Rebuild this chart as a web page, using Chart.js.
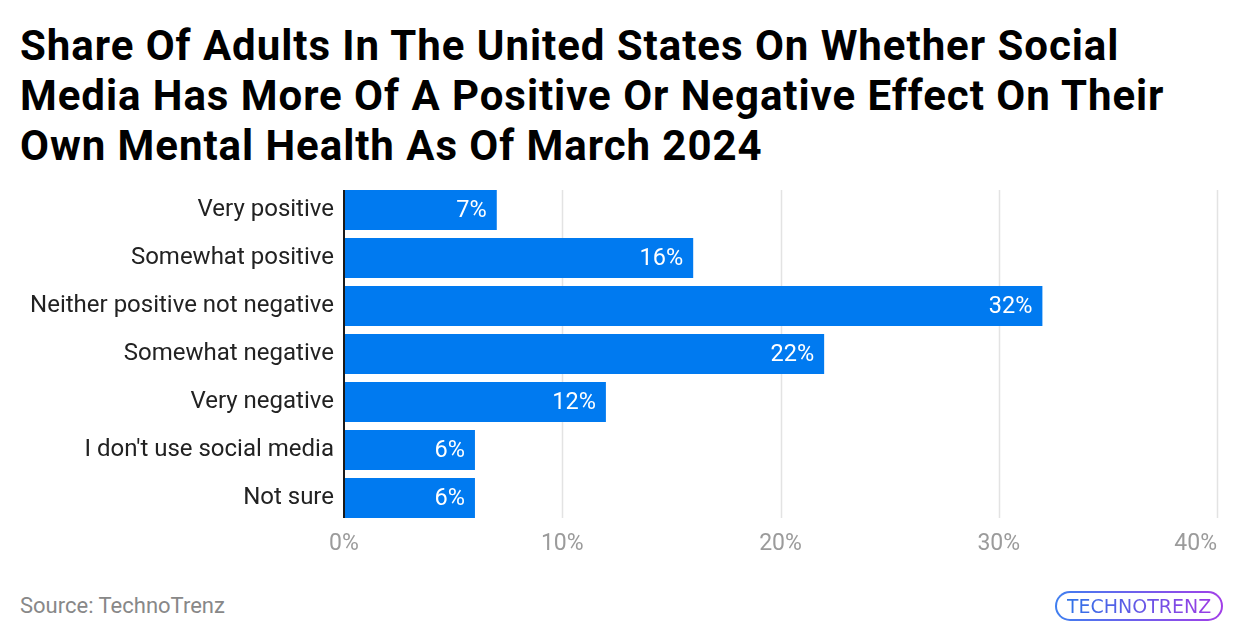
<!DOCTYPE html>
<html>
<head>
<meta charset="utf-8">
<script src="https://cdn.jsdelivr.net/npm/chart.js@4"></script>
<style>
  html, body { margin: 0; padding: 0; background: #fff; }
  body { width: 1240px; height: 640px; position: relative; overflow: hidden; font-family: Roboto, sans-serif; }
  #title {
    position: absolute; left: 20px; top: 21px; width: 1220px; white-space: nowrap;
    font-size: 42px; font-weight: 700; line-height: 50px; color: #000;
    margin: 0; letter-spacing: 0.95px;
  }
  #chart-box { position: absolute; left: 0; top: 180px; width: 1240px; height: 400px; }
  #source { position: absolute; left: 20px; top: 593px; font-size: 22px; color: #888; }
  #logo {
    position: absolute; left: 1055px; top: 591px; width: 168px; height: 30px;
    border: 2px solid transparent; border-radius: 16px; box-sizing: border-box;
    background: linear-gradient(#fff, #fff) padding-box, linear-gradient(90deg, #3f7ff0, #a23ee8) border-box;
    display: flex; align-items: center; justify-content: center;
  }
  #logo span {
    font-family: "DejaVu Sans", sans-serif; font-size: 19px; font-weight: 400; letter-spacing: 0px;
    background: linear-gradient(90deg, #2f73e8, #9a3ce4); -webkit-background-clip: text; background-clip: text; color: transparent;
  }
</style>
</head>
<body>
<h1 id="title">Share Of Adults In The United States On Whether Social<br>Media Has More Of A Positive Or Negative Effect On Their<br>Own Mental Health As Of March 2024</h1>
<div id="chart-box"><canvas id="chart"></canvas></div>
<div id="source">Source: TechnoTrenz</div>
<div id="logo"><span>TECHNOTRENZ</span></div>
<script>
const categories = ['Very positive', 'Somewhat positive', 'Neither positive not negative', 'Somewhat negative', 'Very negative', "I don't use social media", 'Not sure'];
const shares = [7, 16, 32, 22, 12, 6, 6];
const xTicks = [0, 10, 20, 30, 40];

const barColor = '#007af0';

// grid lines, zero axis line, x tick labels (last one right-aligned), value labels inside bars
const barDecor = {
  id: 'barDecor',
  beforeDatasetsDraw(chart) {
    const ctx = chart.ctx;
    const x = chart.scales.x;
    const bars = chart.getDatasetMeta(0).data;
    const top = bars[0].y - bars[0].height / 2;
    const last = bars[bars.length - 1];
    const bottom = last.y + last.height / 2;
    ctx.save();
    ctx.lineWidth = 1.5;
    ctx.strokeStyle = '#e3e3e3';
    xTicks.slice(1).forEach(t => {
      const px = Math.round(x.getPixelForValue(t)) + 0.5;
      ctx.beginPath();
      ctx.moveTo(px, top);
      ctx.lineTo(px, bottom);
      ctx.stroke();
    });

    ctx.fillStyle = '#9b9b9b';
    ctx.font = '23px Roboto';
    ctx.textBaseline = 'middle';
    xTicks.forEach((t, i) => {
      ctx.textAlign = i === xTicks.length - 1 ? 'right' : 'center';
      ctx.fillText(t + '%', x.getPixelForValue(t), bottom + 26);
    });
    ctx.restore();
  },
  afterDatasetsDraw(chart) {
    const ctx = chart.ctx;
    const x = chart.scales.x;
    const bars = chart.getDatasetMeta(0).data;
    const top = bars[0].y - bars[0].height / 2;
    const last = bars[bars.length - 1];
    const bottom = last.y + last.height / 2;
    ctx.save();
    ctx.strokeStyle = '#1a1a1a';
    ctx.lineWidth = 2;
    const zx = x.getPixelForValue(0);
    ctx.beginPath();
    ctx.moveTo(zx, top);
    ctx.lineTo(zx, bottom);
    ctx.stroke();

    ctx.fillStyle = '#fff';
    ctx.font = '23.5px Roboto';
    ctx.textAlign = 'right';
    ctx.textBaseline = 'middle';
    bars.forEach((bar, i) => {
      ctx.fillText(shares[i] + '%', bar.x - 10, bar.y + 1);
    });
    ctx.restore();
  }
};

new Chart(document.getElementById('chart'), {
  type: 'bar',
  data: {
    labels: categories,
    datasets: [{
      data: shares,
      backgroundColor: barColor,
      borderWidth: 0,
      categoryPercentage: 1,
      barPercentage: 40 / 48
    }]
  },
  options: {
    indexAxis: 'y',
    responsive: true,
    maintainAspectRatio: false,
    animation: false,
    layout: { padding: { top: 6, right: 23, bottom: 0, left: 0 } },
    plugins: {
      legend: { display: false },
      tooltip: { enabled: false }
    },
    scales: {
      x: {
        min: 0,
        max: 40,
        afterBuildTicks(axis) { axis.ticks = xTicks.map(v => ({ value: v })); },
        grid: { display: false, drawTicks: false },
        border: { display: false },
        ticks: { display: false },
        afterFit(axis) {
          axis.height = 58;
          axis.paddingLeft = 0;
          axis.paddingRight = 0;
        }
      },
      y: {
        grid: { display: false, drawTicks: false },
        border: { display: false },
        ticks: {
          padding: 10,
          color: '#222',
          font: { family: 'Roboto', size: 24 }
        },
        afterFit(axis) {
          axis.width = 344;
          axis.paddingTop = 0;
          axis.paddingBottom = 0;
        }
      }
    }
  },
  plugins: [barDecor]
});
</script>
</body>
</html>
